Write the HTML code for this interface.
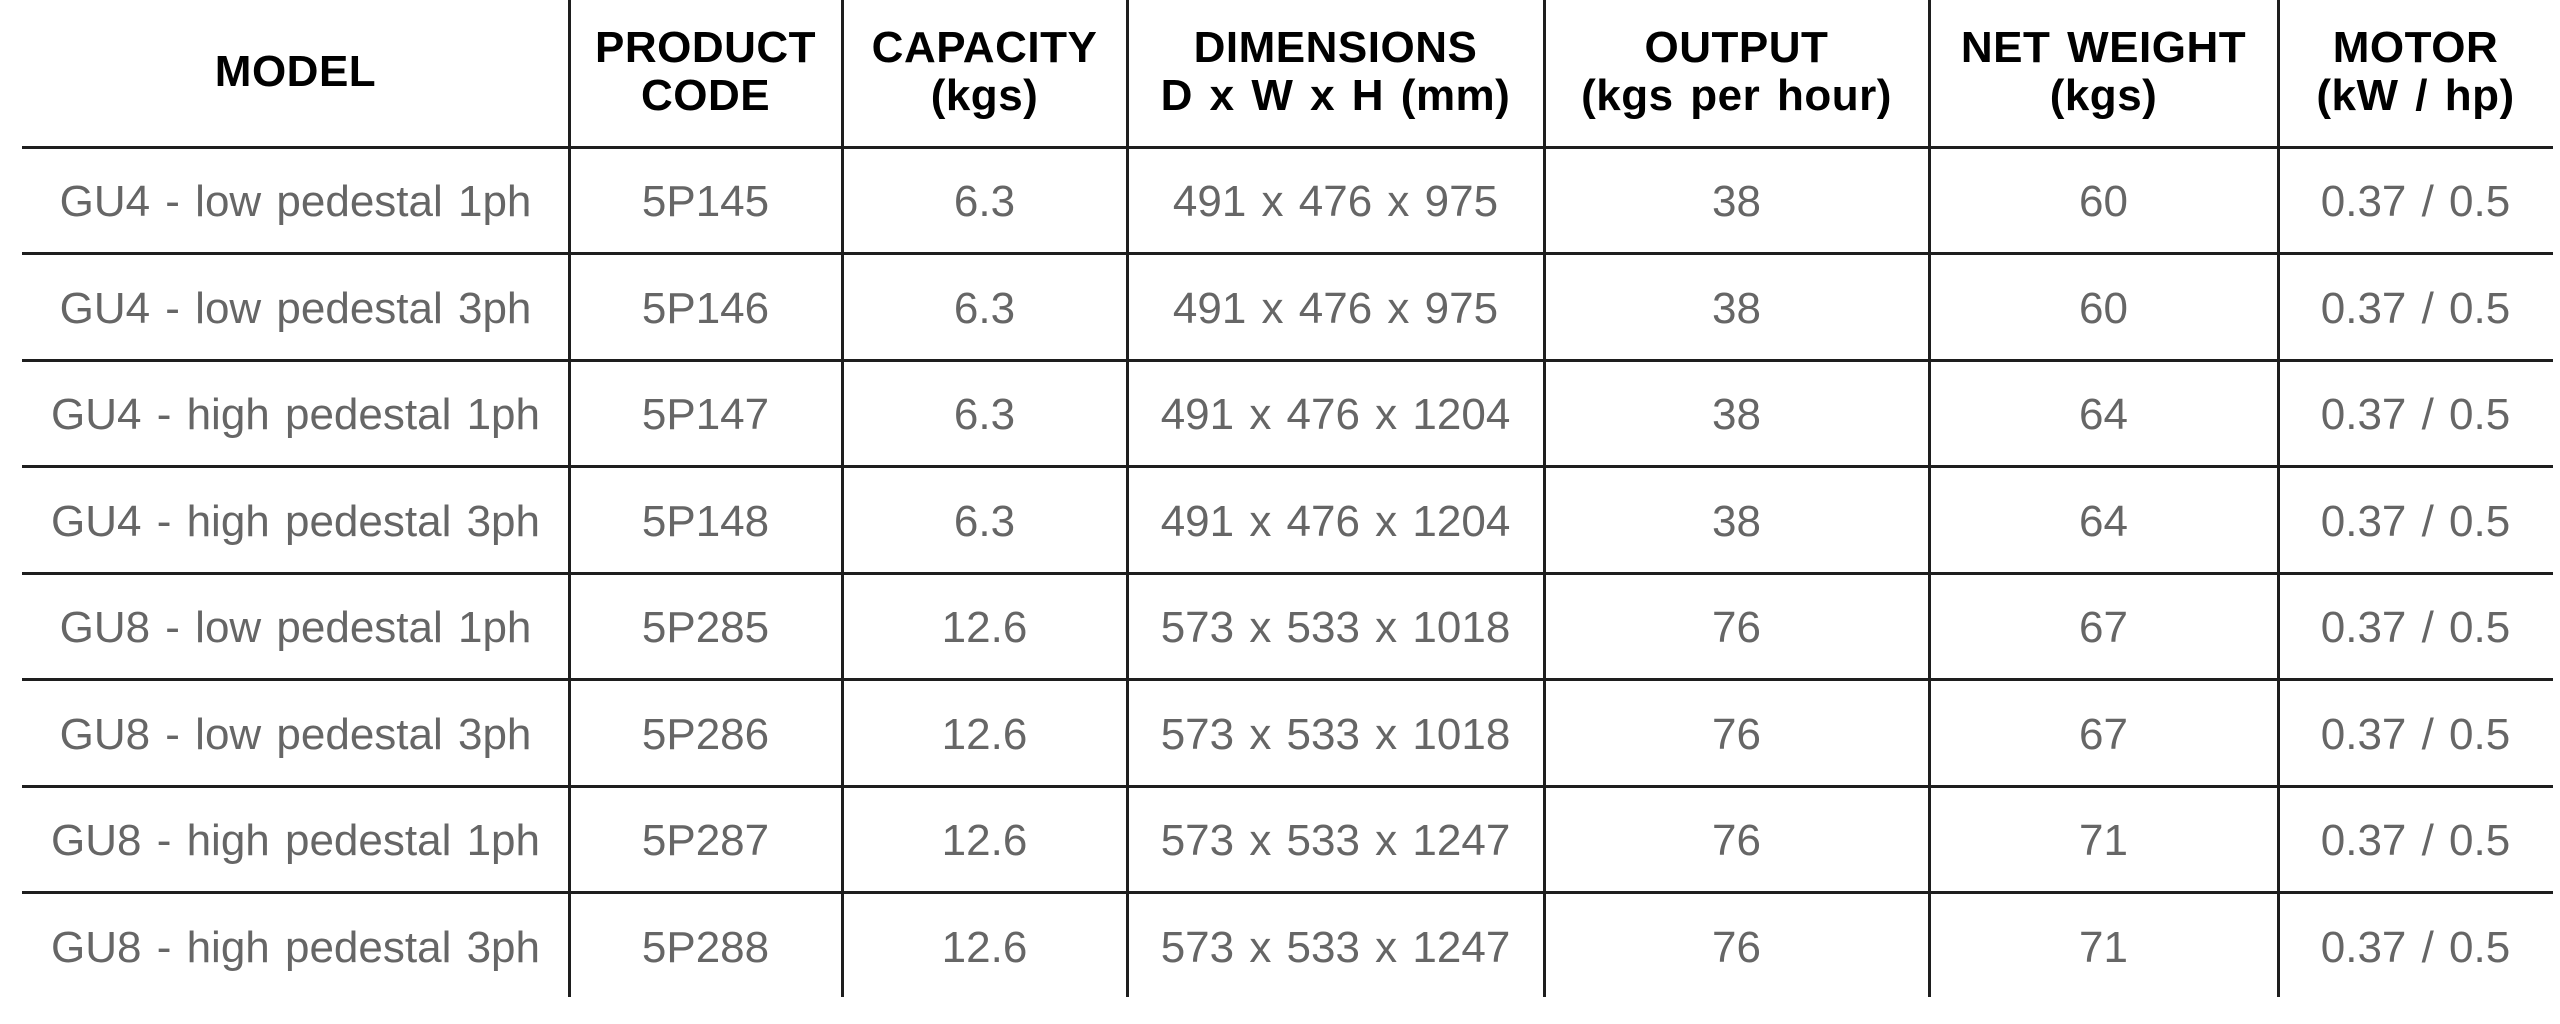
<!DOCTYPE html>
<html>
<head>
<meta charset="utf-8">
<style>
  html, body { margin:0; padding:0; }
  body { width:2560px; height:1024px; background:#ffffff; position:relative; overflow:hidden;
         font-family:"Liberation Sans", Arial, sans-serif; }
  .h { position:absolute; left:22px; width:2531px; height:3px; background:#1e1e1e; }
  .v { position:absolute; top:0; height:997px; width:3px; background:#1e1e1e; }
  .hd { position:absolute; top:24px; height:96px; line-height:48px; text-align:center;
        font-weight:bold; font-size:44px; color:#000; letter-spacing:0.5px; word-spacing:4px; white-space:nowrap; }
  .hd.one { top:48px; }
  .c { position:absolute; height:106px; line-height:110px; text-align:center; font-size:44px;
       color:#666; word-spacing:3px; white-space:nowrap; }
</style>
</head>
<body>
<!-- horizontal lines -->
<div class="h" style="top:145.5px"></div>
<div class="h" style="top:252px"></div>
<div class="h" style="top:358.5px"></div>
<div class="h" style="top:465px"></div>
<div class="h" style="top:571.5px"></div>
<div class="h" style="top:678px"></div>
<div class="h" style="top:784.5px"></div>
<div class="h" style="top:891px"></div>
<!-- vertical lines -->
<div class="v" style="left:567.5px"></div>
<div class="v" style="left:840.5px"></div>
<div class="v" style="left:1125.5px"></div>
<div class="v" style="left:1542.5px"></div>
<div class="v" style="left:1927.5px"></div>
<div class="v" style="left:2276.5px"></div>

<!-- header -->
<div class="hd one" style="left:22px;width:547px;">MODEL</div>
<div class="hd" style="left:569px;width:273px;">PRODUCT<br>CODE</div>
<div class="hd" style="left:842px;width:285px;">CAPACITY<br>(kgs)</div>
<div class="hd" style="left:1127px;width:417px;">DIMENSIONS<br>D x W x H (mm)</div>
<div class="hd" style="left:1544px;width:385px;">OUTPUT<br>(kgs per hour)</div>
<div class="hd" style="left:1929px;width:349px;">NET WEIGHT<br>(kgs)</div>
<div class="hd" style="left:2278px;width:275px;">MOTOR<br>(kW / hp)</div>

<!-- row 1 -->
<div class="c" style="top:147px;left:22px;width:547px;">GU4 - low pedestal 1ph</div>
<div class="c" style="top:147px;left:569px;width:273px;">5P145</div>
<div class="c" style="top:147px;left:842px;width:285px;">6.3</div>
<div class="c" style="top:147px;left:1127px;width:417px;">491 x 476 x 975</div>
<div class="c" style="top:147px;left:1544px;width:385px;">38</div>
<div class="c" style="top:147px;left:1929px;width:349px;">60</div>
<div class="c" style="top:147px;left:2278px;width:275px;">0.37 / 0.5</div>
<!-- row 2 -->
<div class="c" style="top:253.5px;left:22px;width:547px;">GU4 - low pedestal 3ph</div>
<div class="c" style="top:253.5px;left:569px;width:273px;">5P146</div>
<div class="c" style="top:253.5px;left:842px;width:285px;">6.3</div>
<div class="c" style="top:253.5px;left:1127px;width:417px;">491 x 476 x 975</div>
<div class="c" style="top:253.5px;left:1544px;width:385px;">38</div>
<div class="c" style="top:253.5px;left:1929px;width:349px;">60</div>
<div class="c" style="top:253.5px;left:2278px;width:275px;">0.37 / 0.5</div>
<!-- row 3 -->
<div class="c" style="top:360px;left:22px;width:547px;">GU4 - high pedestal 1ph</div>
<div class="c" style="top:360px;left:569px;width:273px;">5P147</div>
<div class="c" style="top:360px;left:842px;width:285px;">6.3</div>
<div class="c" style="top:360px;left:1127px;width:417px;">491 x 476 x 1204</div>
<div class="c" style="top:360px;left:1544px;width:385px;">38</div>
<div class="c" style="top:360px;left:1929px;width:349px;">64</div>
<div class="c" style="top:360px;left:2278px;width:275px;">0.37 / 0.5</div>
<!-- row 4 -->
<div class="c" style="top:466.5px;left:22px;width:547px;">GU4 - high pedestal 3ph</div>
<div class="c" style="top:466.5px;left:569px;width:273px;">5P148</div>
<div class="c" style="top:466.5px;left:842px;width:285px;">6.3</div>
<div class="c" style="top:466.5px;left:1127px;width:417px;">491 x 476 x 1204</div>
<div class="c" style="top:466.5px;left:1544px;width:385px;">38</div>
<div class="c" style="top:466.5px;left:1929px;width:349px;">64</div>
<div class="c" style="top:466.5px;left:2278px;width:275px;">0.37 / 0.5</div>
<!-- row 5 -->
<div class="c" style="top:573px;left:22px;width:547px;">GU8 - low pedestal 1ph</div>
<div class="c" style="top:573px;left:569px;width:273px;">5P285</div>
<div class="c" style="top:573px;left:842px;width:285px;">12.6</div>
<div class="c" style="top:573px;left:1127px;width:417px;">573 x 533 x 1018</div>
<div class="c" style="top:573px;left:1544px;width:385px;">76</div>
<div class="c" style="top:573px;left:1929px;width:349px;">67</div>
<div class="c" style="top:573px;left:2278px;width:275px;">0.37 / 0.5</div>
<!-- row 6 -->
<div class="c" style="top:679.5px;left:22px;width:547px;">GU8 - low pedestal 3ph</div>
<div class="c" style="top:679.5px;left:569px;width:273px;">5P286</div>
<div class="c" style="top:679.5px;left:842px;width:285px;">12.6</div>
<div class="c" style="top:679.5px;left:1127px;width:417px;">573 x 533 x 1018</div>
<div class="c" style="top:679.5px;left:1544px;width:385px;">76</div>
<div class="c" style="top:679.5px;left:1929px;width:349px;">67</div>
<div class="c" style="top:679.5px;left:2278px;width:275px;">0.37 / 0.5</div>
<!-- row 7 -->
<div class="c" style="top:786px;left:22px;width:547px;">GU8 - high pedestal 1ph</div>
<div class="c" style="top:786px;left:569px;width:273px;">5P287</div>
<div class="c" style="top:786px;left:842px;width:285px;">12.6</div>
<div class="c" style="top:786px;left:1127px;width:417px;">573 x 533 x 1247</div>
<div class="c" style="top:786px;left:1544px;width:385px;">76</div>
<div class="c" style="top:786px;left:1929px;width:349px;">71</div>
<div class="c" style="top:786px;left:2278px;width:275px;">0.37 / 0.5</div>
<!-- row 8 -->
<div class="c" style="top:892.5px;left:22px;width:547px;">GU8 - high pedestal 3ph</div>
<div class="c" style="top:892.5px;left:569px;width:273px;">5P288</div>
<div class="c" style="top:892.5px;left:842px;width:285px;">12.6</div>
<div class="c" style="top:892.5px;left:1127px;width:417px;">573 x 533 x 1247</div>
<div class="c" style="top:892.5px;left:1544px;width:385px;">76</div>
<div class="c" style="top:892.5px;left:1929px;width:349px;">71</div>
<div class="c" style="top:892.5px;left:2278px;width:275px;">0.37 / 0.5</div>
</body>
</html>
